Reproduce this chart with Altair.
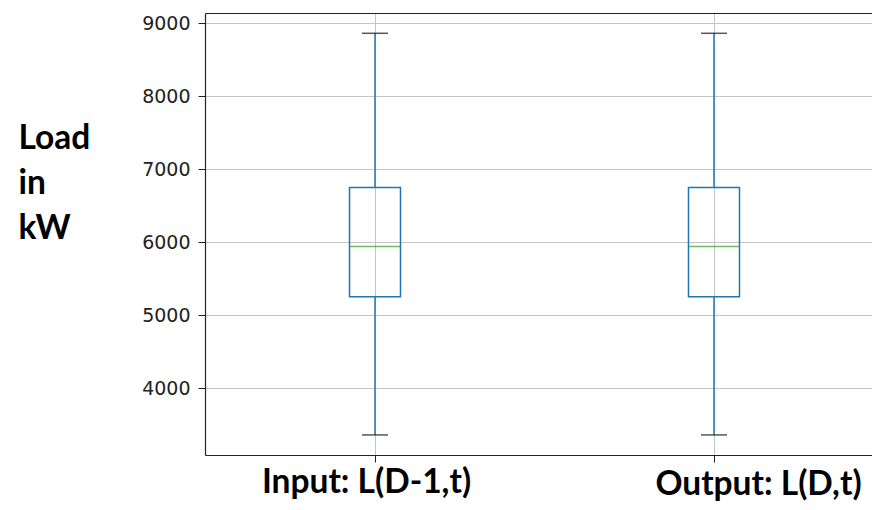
import altair as alt
import pandas as pd

# Box plot statistics (kW)
names = ["Input: L(D-1,t)", "Output: L(D,t)"]
positions = [1, 2]
whisker_low = [3362, 3362]
q1 = [5254, 5254]
median = [5944, 5944]
q3 = [6751, 6751]
whisker_high = [8863, 8863]
y_ticks = [4000, 5000, 6000, 7000, 8000, 9000]

df = pd.DataFrame({
    "name": names,
    "pos": positions,
    "low": whisker_low,
    "q1": q1,
    "median": median,
    "q3": q3,
    "high": whisker_high,
})

BLUE = "#1f77b4"
GREEN = "#2ca02c"
SPINE = "#222222"
GRID = "#c4c4c4"

x_scale = alt.Scale(domain=[0.4985, 2.4661], nice=False, zero=False, padding=0)
y_scale = alt.Scale(domain=[3087, 9141], nice=False, zero=False, padding=0)

label_expr = "datum.value == 1 ? '" + names[0] + "' : datum.value == 2 ? '" + names[1] + "' : ''"

x_bottom = alt.Axis(
    orient="bottom",
    values=positions,
    labelExpr=label_expr,
    title=None,
    grid=True,
    gridColor=GRID,
    gridWidth=1,
    domainColor=SPINE,
    domainWidth=1.2,
    tickColor=SPINE,
    tickSize=7,
    labelFont="Lato",
    labelFontWeight="bold",
    labelFontSize=33.5,
    labelColor="#000000",
    labelBaseline="alphabetic",
    labelLimit=0,
    labelOffset={"condition": {"test": "datum.value == 2", "value": 44}, "value": -9},
    labelPadding={"condition": {"test": "datum.value == 2", "value": 32}, "value": 30},
    labelFlush=False,
    labelOverlap=False,
)

x_top = alt.Axis(
    orient="top",
    values=positions,
    labels=False,
    ticks=False,
    grid=False,
    title=None,
    domainColor=SPINE,
    domainWidth=1.2,
)

y_axis = alt.Axis(
    values=y_ticks,
    format="d",
    grid=True,
    gridColor=GRID,
    gridWidth=1,
    domainColor=SPINE,
    domainWidth=1.2,
    tickColor=SPINE,
    tickSize=7,
    labelFont="DejaVu Sans",
    labelFontSize=19,
    labelColor="#222222",
    labelPadding=8,
    title=["Load", "in", "kW"],
    titleFont="Lato",
    titleFontWeight="bold",
    titleFontSize=33.5,
    titleColor="#000000",
    titleAngle=0,
    titleAlign="left",
    titleBaseline="alphabetic",
    titleLineHeight=45,
    titleX=-187,
    titleY=135,
)

base = alt.Chart(df)

whisker_lo = base.mark_rule(color=BLUE, strokeWidth=1.5).encode(
    x=alt.X("pos:Q", scale=x_scale, axis=x_bottom),
    y=alt.Y("low:Q", scale=y_scale, axis=y_axis),
    y2="q1:Q",
)

whisker_hi = base.mark_rule(color=BLUE, strokeWidth=1.5).encode(
    x=alt.X("pos:Q", scale=x_scale, axis=x_top),
    y=alt.Y("q3:Q", scale=y_scale, axis=y_axis),
    y2="high:Q",
)

box = base.mark_bar(size=51, fill="transparent", stroke=BLUE, strokeWidth=1.5).encode(
    x=alt.X("pos:Q", scale=x_scale, axis=None),
    y=alt.Y("q1:Q", scale=y_scale, axis=y_axis),
    y2="q3:Q",
)

med = base.mark_tick(orient="horizontal", size=51, thickness=1.5, color=GREEN).encode(
    x=alt.X("pos:Q", scale=x_scale, axis=None),
    y=alt.Y("median:Q", scale=y_scale, axis=y_axis),
)

cap_lo = base.mark_tick(orient="horizontal", size=26, thickness=1.5, color="#111111").encode(
    x=alt.X("pos:Q", scale=x_scale, axis=None),
    y=alt.Y("low:Q", scale=y_scale, axis=y_axis),
)

cap_hi = base.mark_tick(orient="horizontal", size=26, thickness=1.5, color="#111111").encode(
    x=alt.X("pos:Q", scale=x_scale, axis=None),
    y=alt.Y("high:Q", scale=y_scale, axis=y_axis),
)

chart = (
    alt.layer(whisker_lo, whisker_hi, box, med, cap_lo, cap_hi)
    .resolve_axis(x="independent")
    .properties(
        width=667,
        height=442,
        padding={"left": 197, "top": 5, "right": 0, "bottom": 47},
        autosize=alt.AutoSizeParams(type="none"),
        background="white",
    )
    .configure_view(stroke=None)
)

chart.save("out.html", embed_options={"renderer": "svg", "actions": False})
